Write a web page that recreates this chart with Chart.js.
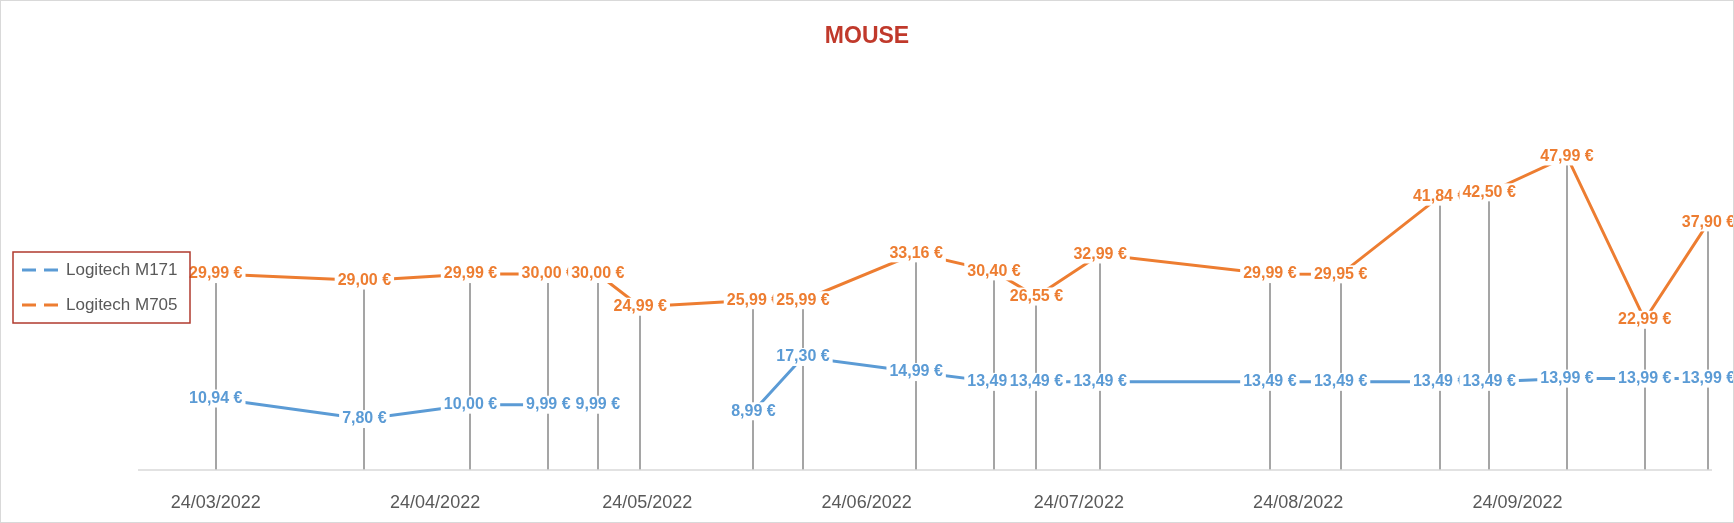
<!DOCTYPE html>
<html><head><meta charset="utf-8">
<script src="https://cdn.jsdelivr.net/npm/chart.js@4"></script>
<style>html,body{margin:0;padding:0;background:#fff}#w{width:1734px;height:523px}</style>
</head><body><div id="w"><canvas id="c"></canvas></div>
<script>
// days since 24/03/2022
const dayOffsets = [0,21,36,47,54,60,76,83,99,110,116,125,149,159,173,180,191,202,211];
const m171 = [10.94,7.80,10.00,9.99,9.99,null,8.99,17.30,14.99,13.49,13.49,13.49,13.49,13.49,13.49,13.49,13.99,13.99,13.99];
const m705 = [29.99,29.00,29.99,30.00,30.00,24.99,25.99,25.99,33.16,30.40,26.55,32.99,29.99,29.95,41.84,42.50,47.99,22.99,37.90];
const tickDays = [0,31,61,92,122,153,184];
const tickLabels = ['24/03/2022','24/04/2022','24/05/2022','24/06/2022','24/07/2022','24/08/2022','24/09/2022'];
const seriesNames = ['Logitech M171','Logitech M705'];
const colors = ['#5B9BD5','#ED7D31'];

const fmt = v => v.toFixed(2).replace('.', ',') + ' €';

const deco = {
  id:'deco',
  beforeDatasetsDraw(ch){
    const ctx=ch.ctx, x=ch.scales.x, y=ch.scales.y;
    ctx.save();
    ctx.strokeStyle='#A5A5A5'; ctx.lineWidth=2;
    dayOffsets.forEach((d,i)=>{
      const vals=[m171[i],m705[i]].filter(v=>v!=null);
      const top=Math.max(...vals);
      const px=Math.round(x.getPixelForValue(d));
      ctx.beginPath(); ctx.moveTo(px,y.getPixelForValue(top)); ctx.lineTo(px,ch.chartArea.bottom); ctx.stroke();
    });
    ctx.strokeStyle='#D9D9D9'; ctx.lineWidth=1.5;
    ctx.beginPath(); ctx.moveTo(ch.chartArea.left,ch.chartArea.bottom); ctx.lineTo(ch.chartArea.right,ch.chartArea.bottom); ctx.stroke();
    ctx.restore();
  },
  afterDatasetsDraw(ch){
    const ctx=ch.ctx, x=ch.scales.x, y=ch.scales.y;
    ctx.save();
    ctx.font='bold 16px "Liberation Sans", Arial, sans-serif';
    ctx.textAlign='center'; ctx.textBaseline='middle';
    [m171,m705].forEach((arr,s)=>{
      arr.forEach((v,i)=>{
        if(v==null) return;
        const px=x.getPixelForValue(dayOffsets[i]), py=y.getPixelForValue(v);
        const t=fmt(v), w=ctx.measureText(t).width;
        ctx.fillStyle='#fff'; ctx.fillRect(px-w/2-3,py-9,w+6,18);
        ctx.fillStyle=colors[s]; ctx.fillText(t,px,py);
      });
    });
    // title
    ctx.font='bold 23px "Liberation Sans", Arial, sans-serif';
    ctx.fillStyle='#C0392B'; ctx.fillText('MOUSE',867,37);
    // legend
    ctx.strokeStyle='#B03A2E'; ctx.lineWidth=1.5;
    ctx.strokeRect(13,252,177,71);
    ctx.font='17px "Liberation Sans", Arial, sans-serif';
    ctx.textAlign='left';
    seriesNames.forEach((n,s)=>{
      const ly=[270,305][s];
      ctx.strokeStyle=colors[s]; ctx.lineWidth=3; ctx.setLineDash([14,8]);
      ctx.beginPath(); ctx.moveTo(22,ly); ctx.lineTo(64,ly); ctx.stroke();
      ctx.setLineDash([]);
      ctx.fillStyle='#595959'; ctx.fillText(n,66,ly);
    });
    // frame
    ctx.strokeStyle='#D9D9D9'; ctx.lineWidth=1;
    ctx.strokeRect(0.5,0.5,1733,522);
    ctx.restore();
  }
};

new Chart(document.getElementById('c'),{
  type:'line',
  data:{datasets:[m171,m705].map((arr,s)=>({
    label:seriesNames[s],
    data:arr.map((v,i)=>({x:dayOffsets[i],y:v})),
    borderColor:colors[s], backgroundColor:colors[s],
    borderWidth:3, pointRadius:0, spanGaps:false, tension:0
  }))},
  options:{
    responsive:true, maintainAspectRatio:false, animation:false,
    layout:{padding:{left:138,right:22,top:78,bottom:0}},
    plugins:{legend:{display:false},title:{display:false},tooltip:{enabled:false}},
    scales:{
      x:{type:'linear',min:-11,max:211.5,
        grid:{display:false},border:{display:false},
        afterBuildTicks(sc){sc.ticks=tickDays.map(v=>({value:v}));},
        afterFit(sc){sc.height=53;},
        ticks:{autoSkip:false,maxRotation:0,padding:14,color:'#595959',
          font:{size:18,family:'"Liberation Sans", Arial, sans-serif'},
          callback:(v)=>tickLabels[tickDays.indexOf(v)]}
      },
      y:{display:false,min:0,max:60}
    }
  },
  plugins:[deco]
});
</script></body></html>
